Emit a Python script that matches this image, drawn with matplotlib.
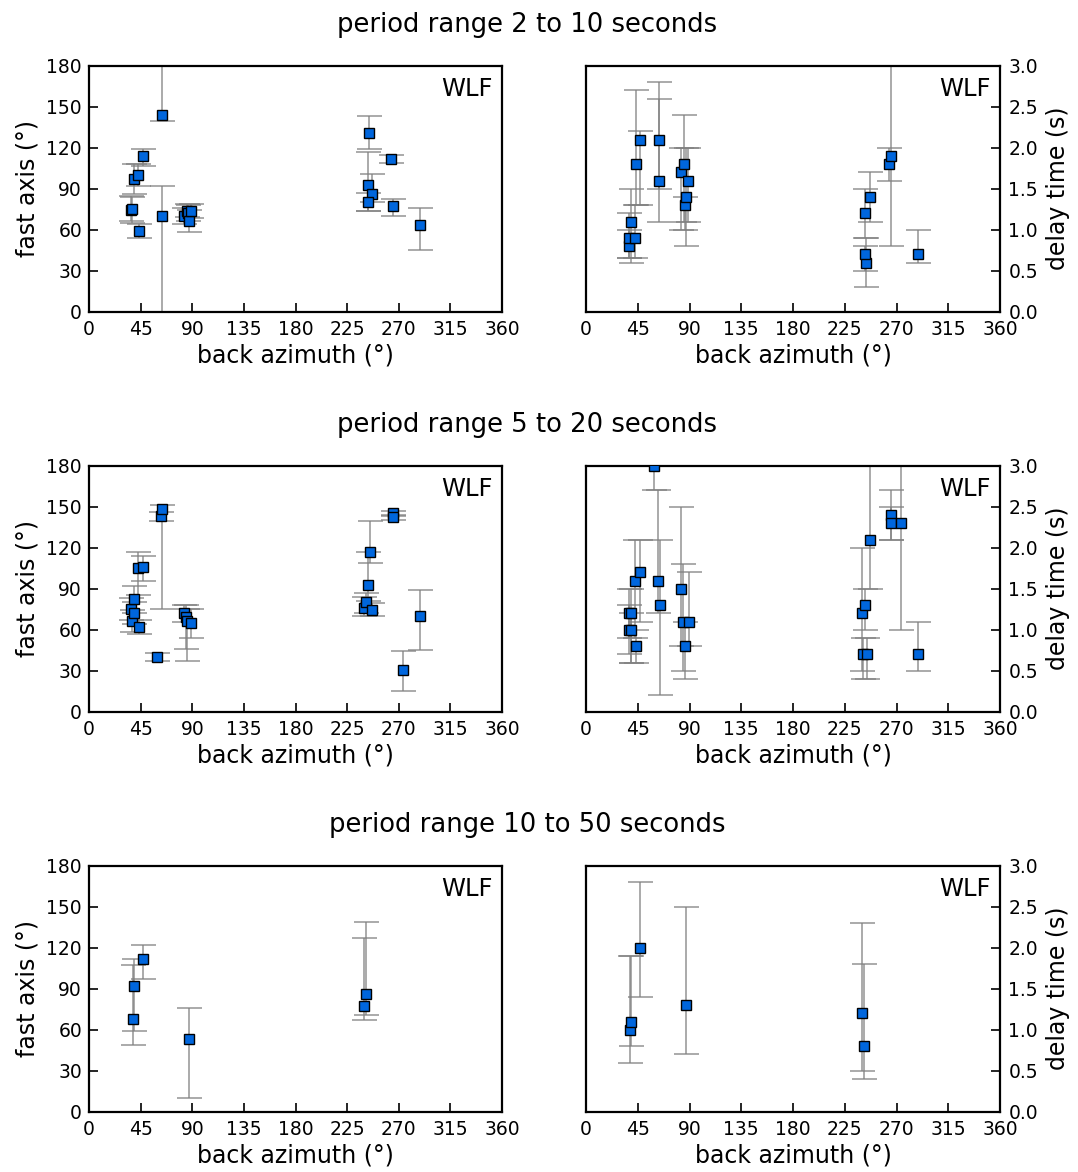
import matplotlib
matplotlib.use("Agg")
import matplotlib.pyplot as plt
import numpy as np

plt.rcParams['font.family'] = ['DejaVu Sans']

station = "WLF"
period_titles = ["period range 2 to 10 seconds",
                 "period range 5 to 20 seconds",
                 "period range 10 to 50 seconds"]
baz_ticks = [0, 45, 90, 135, 180, 225, 270, 315, 360]
fa_ticks = [0, 30, 60, 90, 120, 150, 180]
dt_ticks = [0.0, 0.5, 1.0, 1.5, 2.0, 2.5, 3.0]

# ---- period range 2-10 s ----
baz_p1 = [37.0, 37.8, 38.8, 42.8, 43.9, 46.9, 63.2, 63.2, 83.0, 85.1,
          86.1, 87.1, 89.0, 243.9, 243.0, 246.6, 242.8, 263.6, 264.8, 288.7]
fa_p1 = [74.4, 75.0, 97.1, 100.0, 59.0, 113.9, 143.9, 70.0, 70.0, 74.0,
         72.2, 66.1, 73.9, 131.0, 92.9, 86.1, 80.0, 112.0, 77.1, 63.2]
fa_lo_p1 = [8, 10, 11, 8, 5, 7, 4, 75, 6, 5,
            6, 8, 5, 12, 19, 6, 6, 3, 7, 18]
fa_hi_p1 = [10, 9, 11, 8, 5, 5, 50, 22, 6, 5,
            6, 8, 5, 12, 24, 15, 7, 3, 5, 13]
dt_p1 = [0.80, 0.90, 1.10, 0.90, 1.80, 2.10, 2.10, 1.60, 1.70, 1.80,
         1.30, 1.40, 1.60, 0.60, 1.20, 1.40, 0.70, 1.80, 1.90, 0.70]
dt_lo_p1 = [0.15, 0.25, 0.50, 0.25, 0.50, 0.80, 0.60, 0.50, 0.70, 0.70,
            0.30, 0.60, 0.50, 0.30, 0.30, 0.30, 0.20, 0.20, 1.10, 0.10]
dt_hi_p1 = [0.20, 0.30, 0.40, 0.40, 0.90, 0.10, 0.70, 1.00, 0.30, 0.60,
            0.10, 0.60, 0.40, 0.30, 0.30, 0.30, 0.10, 0.20, 1.20, 0.30]

# ---- period range 5-20 s ----
baz_p2 = [37.0, 37.8, 38.8, 39.2, 42.8, 43.9, 47.0, 59.0, 63.0, 64.0,
          83.0, 84.2, 85.7, 89.2, 239.7, 241.1, 242.8, 244.6, 246.6,
          264.8, 264.8, 273.6, 288.8]
fa_p2 = [75.3, 66.1, 82.2, 72.0, 105.1, 62.2, 105.9, 40.0, 142.9, 148.5,
         72.0, 69.1, 66.1, 64.9, 76.1, 80.5, 92.9, 116.8, 74.2,
         145.1, 142.2, 30.3, 70.0]
fa_lo_p2 = [8, 8, 10, 8, 20, 5, 10, 3, 3, 73,
            6, 23, 29, 11, 6, 8, 12, 8, 4,
            2, 2, 15, 25]
fa_hi_p2 = [8, 8, 10, 8, 12, 5, 8, 3, 3, 3,
            6, 9, 9, 10, 8, 6, 24, 23, 5,
            2, 2, 14, 19]
dt_p2 = [1.20, 1.00, 1.20, 1.00, 1.60, 0.80, 1.70, 3.00, 1.60, 1.30,
         1.50, 1.10, 0.80, 1.10, 1.20, 0.70, 1.30, 0.70, 2.10,
         2.40, 2.30, 2.30, 0.70]
dt_lo_p2 = [0.30, 0.30, 0.60, 0.40, 0.70, 0.20, 0.60, 0.30, 0.40, 1.10,
            0.70, 0.60, 0.40, 0.30, 0.70, 0.30, 0.30, 0.30, 0.60,
            0.30, 0.20, 1.30, 0.20]
dt_hi_p2 = [0.30, 0.30, 0.30, 0.20, 0.50, 0.20, 0.40, 0.30, 1.10, 0.80,
            1.00, 0.70, 0.30, 0.60, 0.80, 0.20, 0.20, 0.20, 1.00,
            0.30, 0.20, 1.00, 0.40]

# ---- period range 10-50 s ----
baz_p3 = [38.3, 39.2, 47.0, 87.3, 239.7, 241.5]
fa_p3 = [68.0, 92.0, 111.9, 53.2, 77.1, 86.1]
fa_lo_p3 = [19, 33, 15, 43, 10, 15]
fa_hi_p3 = [39, 20, 10, 23, 50, 53]
dt_p3 = [1.00, 1.10, 2.00, 1.30, 1.20, 0.80]
dt_lo_p3 = [0.40, 0.30, 0.60, 0.60, 0.70, 0.40]
dt_hi_p3 = [0.90, 0.80, 0.80, 1.20, 1.10, 1.00]

periods = [
    (baz_p1, fa_p1, fa_lo_p1, fa_hi_p1, dt_p1, dt_lo_p1, dt_hi_p1),
    (baz_p2, fa_p2, fa_lo_p2, fa_hi_p2, dt_p2, dt_lo_p2, dt_hi_p2),
    (baz_p3, fa_p3, fa_lo_p3, fa_hi_p3, dt_p3, dt_lo_p3, dt_hi_p3),
]

W, H = 1078, 1172
fig = plt.figure(figsize=(W / 100, H / 100), dpi=100)

marker_color = "#0066dd"
bar_color = "#808080"
tick_fs = 13.5
label_fs = 17
title_fs = 18.6


def style_axes(ax, right=False):
    for s in ax.spines.values():
        s.set_linewidth(1.6)
    ax.set_xlim(0, 360)
    ax.set_xticks(baz_ticks)
    ax.tick_params(axis="both", direction="in", length=6.5, width=1.2,
                   labelsize=tick_fs, pad=5)
    ax.tick_params(axis="x", pad=6)
    ax.set_xlabel("back azimuth (\u00b0)", fontsize=label_fs, labelpad=3)
    if right:
        ax.yaxis.tick_right()
        ax.yaxis.set_label_position("right")
        ax.tick_params(axis="y", left=False, right=True, pad=6)
    ax.text(1 - 9 / 413, 1 - 11 / 246, station, transform=ax.transAxes,
            ha="right", va="top", fontsize=17.5)


def draw(ax, x, y, lo, hi):
    ax.errorbar(x, y, yerr=[lo, hi], fmt="none", ecolor=bar_color,
                elinewidth=1.1, capsize=9, capthick=1.1, alpha=0.85, zorder=2)
    ax.plot(x, y, ls="none", marker="s", markersize=7.5,
            markerfacecolor=marker_color, markeredgecolor="black",
            markeredgewidth=1.0, zorder=3)


tops = [65.7, 465.7, 865.7]
ax_h = 246.0
for row, (baz, fa, fa_lo, fa_hi, dt, dt_lo, dt_hi) in enumerate(periods):
    bottom = 1 - (tops[row] + ax_h) / H
    axl = fig.add_axes([89 / W, bottom, 413 / W, ax_h / H])
    axr = fig.add_axes([586 / W, bottom, 414 / W, ax_h / H])

    draw(axl, baz, fa, fa_lo, fa_hi)
    axl.set_ylim(0, 180)
    axl.set_yticks(fa_ticks)
    style_axes(axl)
    axl.set_ylabel("fast axis (\u00b0)", fontsize=label_fs, labelpad=5)

    draw(axr, baz, dt, dt_lo, dt_hi)
    axr.set_ylim(0, 3.0)
    axr.set_yticks(dt_ticks)
    axr.set_yticklabels([f"{v:.1f}" for v in dt_ticks])
    style_axes(axr, right=True)
    axr.set_ylabel("delay time (s)", fontsize=label_fs, labelpad=6)

    fig.text(527 / W, 1 - (tops[row] - 41) / H, period_titles[row],
             ha="center", va="center", fontsize=title_fs)

fig.savefig("out.png", dpi=100)
